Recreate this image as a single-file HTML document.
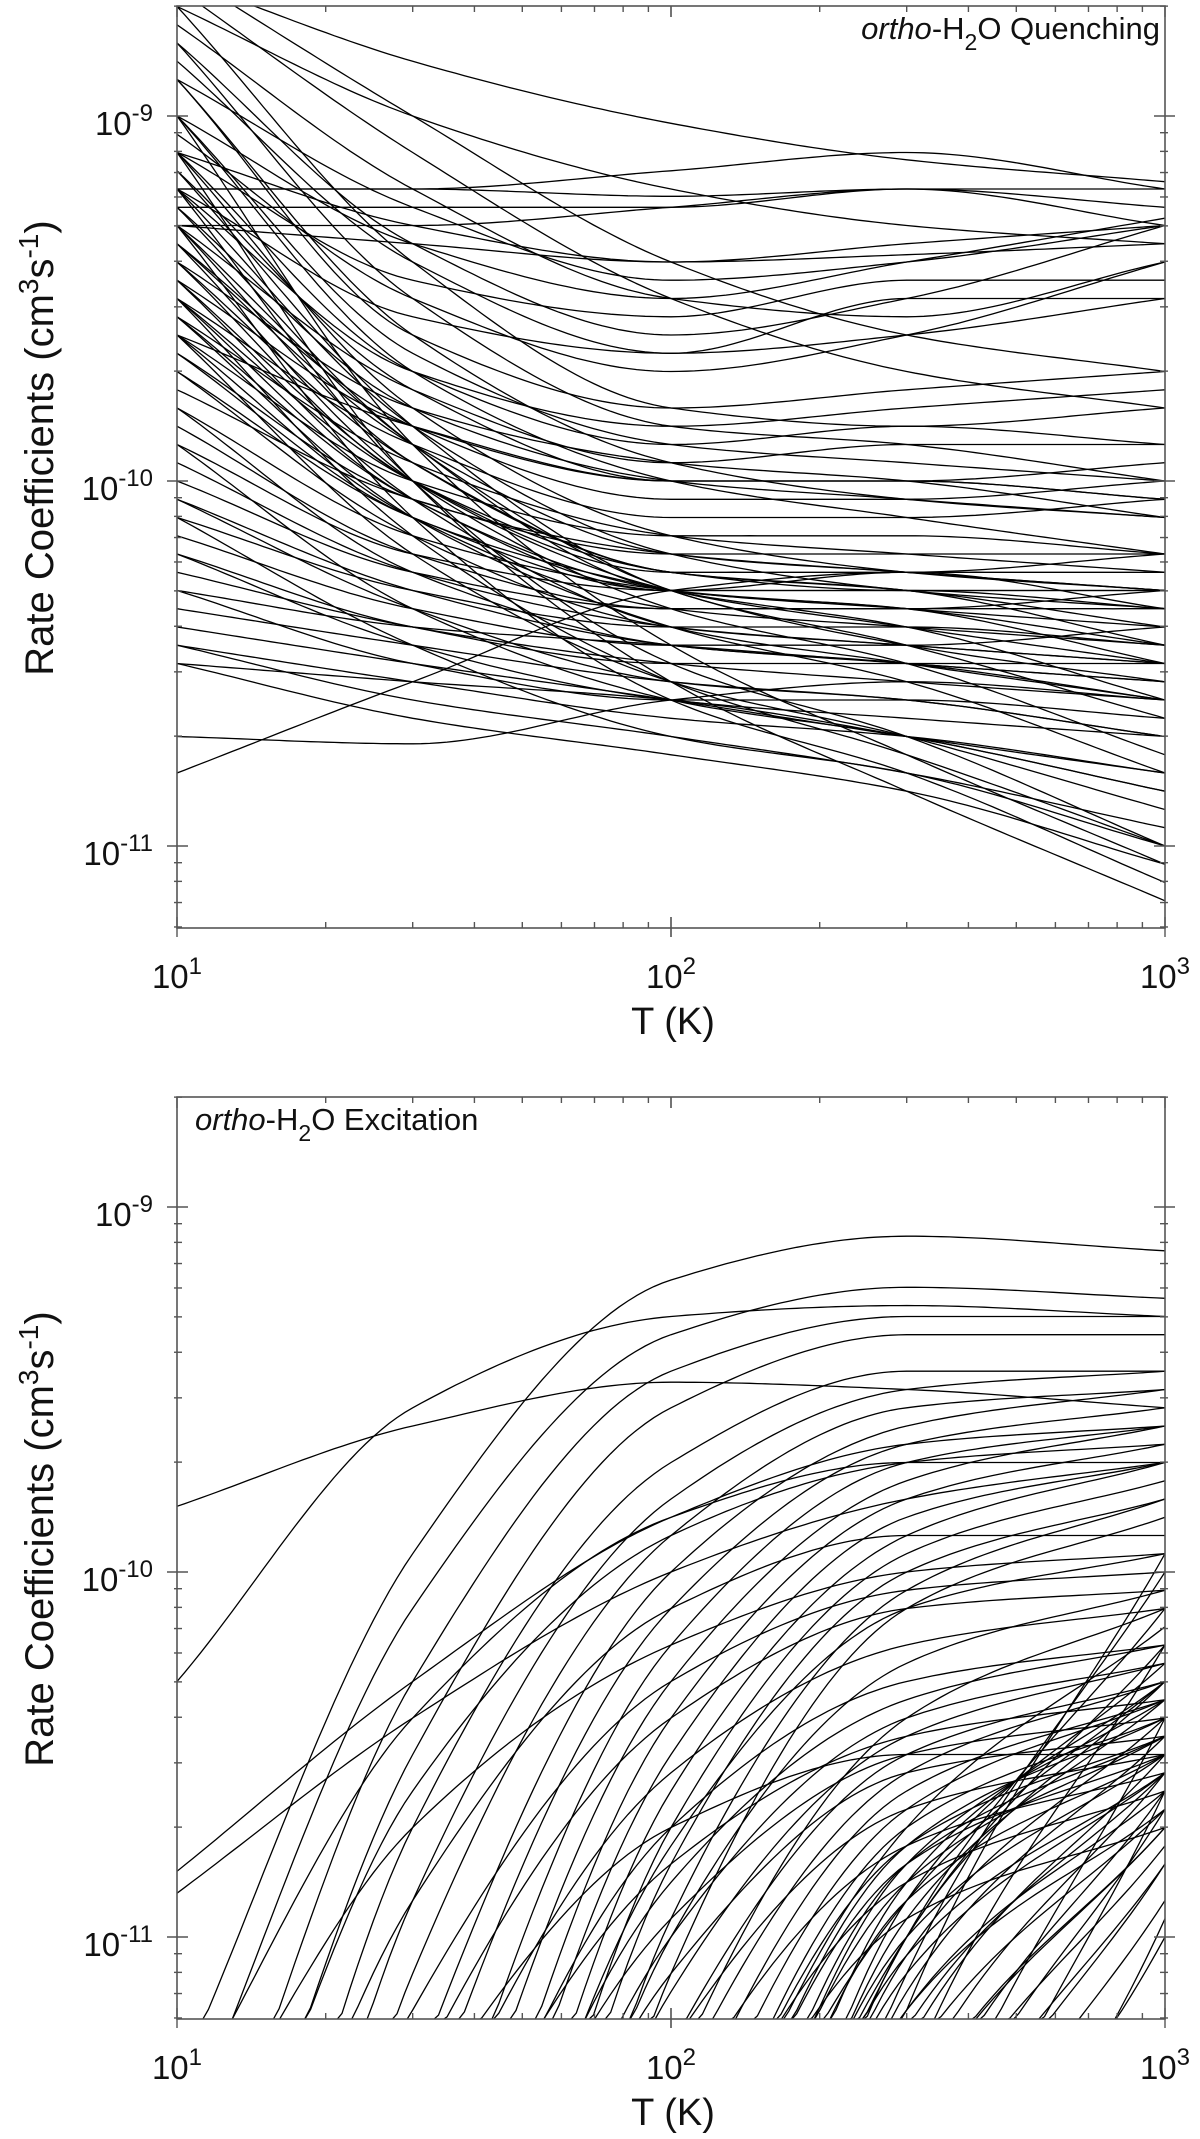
<!DOCTYPE html>
<html>
<head>
<meta charset="utf-8">
<style>
html,body{margin:0;padding:0;background:#fff;overflow:hidden;}
svg{display:block;}
text{font-family:"Liberation Sans",Arial,sans-serif;fill:#111;}
</style>
</head>
<body>
<svg id="fig" width="1200" height="2139" viewBox="0 0 1200 2139" xmlns="http://www.w3.org/2000/svg">
<defs>
<clipPath id="clipTop"><rect x="177" y="6" width="988" height="922"/></clipPath>
<clipPath id="clipBot"><rect x="177" y="1097" width="988" height="922"/></clipPath>
</defs>
<g id="topPanel"></g>
<g id="botPanel"></g>
</svg>
<script>
// temperatures (K) at which curve values are given
const temps = [10, 30, 100, 300, 1000];
// x-axis tick labels
const xTickExps = [1, 2, 3];
// y-axis tick labels (exponents)
const yTickExps = [-9, -10, -11];
// log10 rate coefficients for ortho-H2O quenching
const quenchCurves = [
[-8.62,-8.85,-9.02,-9.12,-9.18],[-8.7,-9.0,-9.2,-9.3,-9.35],[-9.2,-9.2,-9.22,-9.2,-9.2],
[-9.25,-9.25,-9.25,-9.2,-9.25],[-9.1,-9.3,-9.4,-9.35,-9.3],[-8.9,-9.25,-9.45,-9.4,-9.3],
[-9.0,-9.35,-9.5,-9.4,-9.28],[-8.75,-9.2,-9.5,-9.55,-9.4],[-9.3,-9.35,-9.4,-9.38,-9.35],
[-8.8,-9.35,-9.6,-9.5,-9.3],[-9.1,-9.45,-9.55,-9.45,-9.45],[-8.85,-9.4,-9.65,-9.6,-9.5],
[-9.05,-9.5,-9.7,-9.6,-9.4],[-9.2,-9.55,-9.65,-9.5,-9.5],[-8.7,-9.4,-9.8,-9.85,-9.8],
[-8.8,-9.5,-9.85,-9.9,-10.0],[-8.9,-9.6,-9.8,-9.75,-9.7],[-9.0,-9.65,-9.9,-9.95,-10.0],
[-9.1,-9.7,-9.9,-9.85,-9.9],[-9.15,-9.75,-10.0,-10.0,-10.05],[-9.2,-9.7,-9.85,-9.8,-9.75],
[-9.25,-9.8,-10.0,-10.05,-10.1],[-9.3,-9.75,-9.95,-9.9,-9.9],[-9.35,-9.85,-10.05,-10.05,-10.0],
[-9.4,-9.8,-9.95,-10.0,-10.1],[-9.0,-9.7,-10.0,-10.1,-10.2],[-8.9,-9.6,-9.95,-10.05,-10.1],
[-9.5,-9.9,-10.1,-10.1,-10.05],[-9.45,-9.85,-10.0,-10.0,-10.05],[-9.6,-9.85,-10.0,-10.0,-9.95],
[-9.55,-9.95,-10.15,-10.2,-10.25],[-9.6,-10.0,-10.15,-10.15,-10.2],[-9.65,-10.05,-10.2,-10.25,-10.3],
[-9.1,-9.8,-10.15,-10.25,-10.3],[-9.2,-9.85,-10.2,-10.3,-10.35],[-9.3,-9.95,-10.25,-10.3,-10.3],
[-9.4,-10.0,-10.25,-10.25,-10.2],[-9.5,-10.05,-10.3,-10.35,-10.4],[-9.7,-10.1,-10.3,-10.3,-10.35],
[-9.75,-10.05,-10.2,-10.2,-10.2],[-9.8,-10.15,-10.3,-10.35,-10.45],[-9.85,-10.2,-10.35,-10.35,-10.3],
[-9.9,-10.2,-10.3,-10.25,-10.25],[-9.95,-10.25,-10.4,-10.45,-10.5],[-10.0,-10.25,-10.35,-10.35,-10.35],
[-10.05,-10.3,-10.45,-10.5,-10.55],[-10.1,-10.3,-10.4,-10.4,-10.45],[-10.15,-10.35,-10.45,-10.45,-10.4],
[-9.6,-10.1,-10.35,-10.4,-10.45],[-9.7,-10.15,-10.4,-10.45,-10.5],[-9.8,-10.25,-10.45,-10.5,-10.6],
[-9.3,-9.9,-10.3,-10.45,-10.55],[-9.45,-10.05,-10.4,-10.5,-10.6],[-10.2,-10.4,-10.5,-10.5,-10.5],
[-10.25,-10.4,-10.5,-10.55,-10.6],[-10.3,-10.4,-10.45,-10.5,-10.55],[-10.2,-10.45,-10.6,-10.65,-10.7],
[-10.3,-10.5,-10.6,-10.6,-10.65],[-10.35,-10.45,-10.55,-10.6,-10.7],[-10.4,-10.5,-10.6,-10.7,-10.8],
[-10.45,-10.55,-10.65,-10.7,-10.8],[-10.5,-10.55,-10.6,-10.7,-10.85],[-9.9,-10.35,-10.6,-10.7,-10.85],
[-9.6,-10.2,-10.55,-10.7,-10.9],[-9.5,-10.15,-10.55,-10.75,-11.0],[-9.2,-10.0,-10.5,-10.7,-11.0],
[-9.0,-9.9,-10.45,-10.75,-11.05],[-9.3,-10.1,-10.6,-10.8,-11.1],[-9.1,-10.0,-10.55,-10.85,-11.15],
[-10.1,-10.45,-10.7,-10.8,-11.0],[-10.5,-10.65,-10.75,-10.85,-11.05],[-10.45,-10.6,-10.7,-10.8,-10.95],
[-10.7,-10.72,-10.6,-10.55,-10.6],[-10.8,-10.55,-10.3,-10.25,-10.35],[-9.2,-9.2,-9.15,-9.1,-9.2],
[-9.3,-9.3,-9.25,-9.2,-9.3],[-8.6,-9.0,-9.4,-9.6,-9.7],[-8.65,-9.1,-9.5,-9.7,-9.8],
[-10.05,-10.35,-10.55,-10.6,-10.7],
[-9.35,-9.9,-10.2,-10.25,-10.3],[-9.4,-9.95,-10.25,-10.3,-10.4],[-9.45,-10.0,-10.3,-10.4,-10.5],
[-9.5,-10.0,-10.25,-10.3,-10.45],[-9.55,-10.05,-10.3,-10.3,-10.3],[-9.25,-9.9,-10.3,-10.35,-10.5],
[-9.15,-9.85,-10.3,-10.45,-10.65],[-9.35,-10.0,-10.35,-10.5,-10.75],[-9.55,-10.1,-10.4,-10.55,-10.8],
[-9.65,-10.1,-10.3,-10.4,-10.6]
];
// log10 rate coefficients for ortho-H2O excitation
const exciteCurves = [
[-9.82,-9.6,-9.48,-9.5,-9.55],[-10.3,-9.55,-9.3,-9.27,-9.3],[-10.88,-10.4,-10.0,-9.8,-9.7],
[-10.82,-10.3,-9.85,-9.65,-9.6],[-11.4,-9.95,-9.2,-9.08,-9.12],[-11.6,-10.1,-9.35,-9.22,-9.25],
[-12.0,-10.3,-9.45,-9.3,-9.3],[-12.3,-10.5,-9.55,-9.35,-9.35],[-12.8,-10.7,-9.7,-9.45,-9.45],
[-13.2,-10.9,-9.8,-9.5,-9.45],[-13.6,-11.1,-9.9,-9.55,-9.5],[-14,-11.4,-10.0,-9.6,-9.5],
[-14.5,-11.6,-10.1,-9.65,-9.55],[-15,-11.9,-10.2,-9.7,-9.6],[-15.5,-12.1,-10.3,-9.75,-9.6],
[-16,-12.4,-10.4,-9.8,-9.65],[-16.5,-12.6,-10.5,-9.85,-9.7],[-17,-12.9,-10.6,-9.9,-9.7],
[-17.5,-13.2,-10.7,-9.95,-9.75],[-18,-13.5,-10.8,-10.0,-9.8],[-19,-13.9,-10.95,-10.05,-9.8],
[-20,-14.3,-11.1,-10.1,-9.85],[-12.5,-10.9,-10.1,-9.9,-9.9],[-13,-11.2,-10.3,-10.05,-10.0],
[-13.5,-11.4,-10.4,-10.1,-10.05],[-14,-11.7,-10.55,-10.2,-10.1],[-15,-12.1,-10.7,-10.3,-10.2],
[-16,-12.5,-10.85,-10.35,-10.2],[-17,-12.9,-11.0,-10.4,-10.25],[-18,-13.4,-11.15,-10.45,-10.25],
[-19,-13.8,-11.3,-10.5,-10.3],[-20,-14.3,-11.45,-10.55,-10.3],[-21,-14.7,-11.6,-10.6,-10.35],
[-22,-15.1,-11.75,-10.65,-10.35],[-23,-15.5,-11.9,-10.7,-10.4],[-24,-16,-12.1,-10.75,-10.4],
[-25,-16.4,-12.3,-10.8,-10.45],[-26,-16.9,-12.5,-10.9,-10.5],[-27,-17.3,-12.7,-11.0,-10.5],
[-28,-17.8,-12.9,-11.1,-10.55],[-30,-18.5,-13.2,-11.2,-10.6],[-32,-19.3,-13.5,-11.35,-10.65],
[-34,-20,-13.8,-11.5,-10.7],[-36,-21,-14.2,-11.65,-10.75],[-38,-22,-14.6,-11.8,-10.8],
[-40,-23,-15,-12,-10.9],[-45,-25,-16,-12.3,-11.0],[-50,-27,-17,-12.5,-10.95],
[-14,-11.9,-10.8,-10.45,-10.35],[-15,-12.3,-10.95,-10.5,-10.4],[-16,-12.8,-11.1,-10.55,-10.45],
[-18,-13.5,-11.3,-10.65,-10.5],[-20,-14.2,-11.5,-10.75,-10.55],[-22,-15,-11.8,-10.85,-10.6],
[-24,-15.8,-12.0,-10.95,-10.7],[-13,-11.5,-10.7,-10.5,-10.5],[-11.7,-10.7,-10.2,-10.0,-9.95],
[-11.5,-10.4,-9.85,-9.7,-9.7],[-12.2,-10.6,-9.9,-9.7,-9.65],[-26,-16.5,-12.2,-10.9,-10.3],
[-28,-17.5,-12.6,-11.0,-10.2],[-30,-18,-12.8,-11.0,-10.1],[-33,-19.5,-13.2,-11.1,-10.0],
[-36,-21,-13.7,-11.2,-9.95],[-25,-16,-12,-10.7,-10.15],[-21,-14.5,-11.4,-10.4,-10.1],
[-19,-13.6,-11,-10.25,-10.05],[-17,-12.8,-10.75,-10.1,-9.95],[-40,-22.5,-14.2,-11.4,-10.2],
[-44,-24.5,-15,-11.8,-10.4],[-48,-26,-15.8,-12.1,-10.6],[-34,-20,-13.4,-11.0,-10.3],
[-30,-18.2,-12.9,-10.95,-10.35],[-31,-18.8,-13.1,-11.05,-10.4],[-32,-19,-13.0,-10.9,-10.25],
[-29,-17.9,-12.7,-10.85,-10.3],[-35,-20.5,-13.6,-11.15,-10.45],[-37,-21.5,-14.0,-11.3,-10.5],
[-39,-22.5,-14.4,-11.45,-10.55],[-42,-24,-14.9,-11.6,-10.6],[-46,-25.5,-15.5,-11.8,-10.65],
[-27,-17.0,-12.4,-10.8,-10.35],[-26,-16.7,-12.3,-10.85,-10.45],[-24,-15.9,-12.05,-10.8,-10.5],
[-23,-15.4,-11.9,-10.75,-10.45],[-33,-19.8,-13.5,-11.25,-10.55],[-38,-22,-14.3,-11.5,-10.7],
[-43,-24.3,-15.2,-11.9,-10.8],[-29,-17.7,-12.8,-11.05,-10.55],[-31,-18.6,-13.2,-11.2,-10.65]
];

const NS = "http://www.w3.org/2000/svg";
const X0 = 177, X1 = 1165;
const DEC_Y = 365;
function xScale(T){ return X0 + (Math.log10(T) - 1) * (X1 - X0) / 2; }
function makeY(panelTop){ const y9 = panelTop + 110; return function(lk){ return y9 + (-9 - lk) * DEC_Y; }; }
function el(tag, attrs, parent){ const e = document.createElementNS(NS, tag); for (const k in attrs) e.setAttribute(k, attrs[k]); parent.appendChild(e); return e; }

// monotone cubic (Fritsch-Carlson) in log-log space
function curvePath(vals, yScale, yMax){
  const xs = temps.map(t => Math.log10(t));
  const n = vals.length;
  const dk = [], m = [];
  for (let i = 0; i < n - 1; i++) dk.push((vals[i+1]-vals[i])/(xs[i+1]-xs[i]));
  m[0] = dk[0]; m[n-1] = dk[n-2];
  for (let i = 1; i < n - 1; i++){
    if (dk[i-1]*dk[i] <= 0) m[i] = 0;
    else { const w1 = 2*(xs[i+1]-xs[i]) + (xs[i]-xs[i-1]), w2 = (xs[i+1]-xs[i]) + 2*(xs[i]-xs[i-1]);
      m[i] = (w1+w2)/(w1/dk[i-1] + w2/dk[i]); }
  }
  let d = "";
  for (let i = 0; i < n - 1; i++){
    const h = xs[i+1]-xs[i];
    const steps = 30;
    for (let s = 0; s <= steps; s++){
      if (i > 0 && s === 0) continue;
      const t = s/steps, t2 = t*t, t3 = t2*t;
      const v = (2*t3-3*t2+1)*vals[i] + (t3-2*t2+t)*h*m[i] + (-2*t3+3*t2)*vals[i+1] + (t3-t2)*h*m[i+1];
      const px = X0 + (xs[i] + h*t - 1) * (X1 - X0) / 2;
      let py = yScale(v);
      if (py > yMax) py = yMax;
      d += (d ? "L" : "M") + px.toFixed(1) + "," + py.toFixed(1);
    }
  }
  return d;
}

function drawPanel(g, panelTop, curves, clipId, titleItalic, titleRest, titleRight, kind){
  const yS = makeY(panelTop);
  const bottom = panelTop + 922;
  const cg = el("g", {"clip-path": "url(#" + clipId + ")"}, g);
  
  
  curves.forEach((c, i) => {
    const p = el("path", {d: curvePath(c, yS, bottom + 4), fill: "none", stroke: "#000", "stroke-width": "1.3"}, cg);
    
    
  });
  const fr = el("rect", {x: X0, y: panelTop, width: X1 - X0, height: 922, fill: "none", stroke: "#555", "stroke-width": "1.6"}, g);
  
  
  for (let e = 1; e <= 2; e++){
    for (let mm = 1; mm <= 10; mm++){
      const T = mm * Math.pow(10, e);
      const x = xScale(T);
      const major = (mm === 1 || mm === 10);
      const len = major ? 11 : 6;
      el("line", {x1: x, y1: bottom + (major ? 9 : 0), x2: x, y2: bottom - len, stroke: "#555", "stroke-width": "1.4"}, g);
      el("line", {x1: x, y1: panelTop, x2: x, y2: panelTop + len, stroke: "#555", "stroke-width": "1.4"}, g);
    }
  }
  for (let e = -12; e <= -9; e++){
    for (let mm = 1; mm <= 9; mm++){
      const y = yS(e + Math.log10(mm));
      if (y < panelTop - 0.5 || y > bottom + 0.5) continue;
      const major = mm === 1;
      const len = major ? 11 : 5;
      el("line", {x1: X0 - (major ? 10 : 3), y1: y, x2: X0 + len, y2: y, stroke: "#555", "stroke-width": "1.4"}, g);
      el("line", {x1: X1 + (major ? 10 : 3), y1: y, x2: X1 - len, y2: y, stroke: "#555", "stroke-width": "1.4"}, g);
    }
  }
  yTickExps.forEach(ex => {
    const t = el("text", {x: 153, y: yS(ex) + 19, "font-size": "33", "text-anchor": "end"}, g);
    
    
    t.appendChild(document.createTextNode("10"));
    const s = el("tspan", {dy: "-14", "font-size": "24"}, t);
    s.textContent = String(ex);
  });
  xTickExps.forEach(ex => {
    const x = xScale(Math.pow(10, ex));
    const t = el("text", {x: x, y: bottom + 60, "font-size": "33", "text-anchor": "middle"}, g);
    
    
    t.appendChild(document.createTextNode("10"));
    const s = el("tspan", {dy: "-14", "font-size": "24"}, t);
    s.textContent = String(ex);
  });
  const xt = el("text", {x: 673, y: bottom + 106, "font-size": "38", "text-anchor": "middle"}, g);
  
  
  xt.textContent = "T (K)";
  const cy = panelTop + 442;
  const yt = el("text", {x: 0, y: 0, "font-size": "40", "text-anchor": "middle", transform: "translate(53," + cy + ") rotate(-90)"}, g);
  
  
  yt.appendChild(document.createTextNode("Rate Coefficients (cm"));
  const s1 = el("tspan", {dy: "-15", "font-size": "28"}, yt); s1.textContent = "3";
  const s2 = el("tspan", {dy: "15"}, yt); s2.textContent = "s";
  const s3 = el("tspan", {dy: "-15", "font-size": "28"}, yt); s3.textContent = "-1";
  const s4 = el("tspan", {dy: "15"}, yt); s4.textContent = ")";
  const tt = el("text", titleRight ? {x: 1160, y: panelTop + 33, "font-size": "31", "text-anchor": "end"} : {x: 195, y: panelTop + 33, "font-size": "31"}, g);
  
  
  const it = el("tspan", {"font-style": "italic"}, tt); it.textContent = titleItalic;
  const a = el("tspan", {}, tt); a.textContent = "-H";
  const b = el("tspan", {dy: "11", "font-size": "23"}, tt); b.textContent = "2";
  const c = el("tspan", {dy: "-11"}, tt); c.textContent = "O " + titleRest;
}

drawPanel(document.getElementById("topPanel"), 6, quenchCurves, "clipTop", "ortho", "Quenching", true, "quench");
drawPanel(document.getElementById("botPanel"), 1097, exciteCurves, "clipBot", "ortho", "Excitation", false, "excite");
</script>
</body>
</html>
